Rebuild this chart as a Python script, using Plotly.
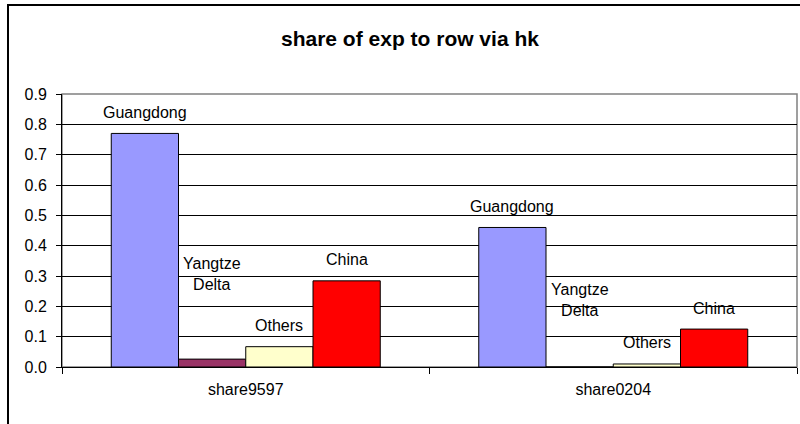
import plotly.graph_objects as go

# ---- data ----
categories = ["share9597", "share0204"]
series_names = ["Guangdong", "Yangtze Delta", "Others", "China"]
guangdong = [0.77, 0.46]
yangtze_delta = [0.026, 0.0]
others = [0.067, 0.010]
china = [0.284, 0.125]
y_ticks = [0.0, 0.1, 0.2, 0.3, 0.4, 0.5, 0.6, 0.7, 0.8, 0.9]
title_text = "share of exp to row via hk"

values = [guangdong, yangtze_delta, others, china]
label_texts = ["Guangdong", "Yangtze<br>Delta", "Others", "China"]
colors = ["#9999FF", "#993366", "#FFFFCC", "#FF0000"]

FONT = "Liberation Sans, Arial, sans-serif"
BARGAP = 0.268

L, R, T, B = 62, 3, 94, 57
W, H = 800, 424
pw, ph = W - L - R, H - T - B

fig = go.Figure()
for name, vals, col in zip(series_names, values, colors):
    fig.add_trace(go.Bar(
        x=categories, y=vals, name=name,
        marker=dict(color=col, line=dict(color="#000000", width=1)),
        showlegend=False, hoverinfo="skip",
    ))

# labels above bars (series names), positioned relative to each bar
n = len(series_names)
group_w = 1 - BARGAP
label_lift = {(1, 0): 85, (1, 1): 67}
annotations = []
for si, (txt, vals) in enumerate(zip(label_texts, values)):
    for ci, v in enumerate(vals):
        xpos = ci - group_w / 2 + (si + 0.5) * group_w / n
        annotations.append(dict(
            x=xpos, y=v, xref="x", yref="y", text=txt, showarrow=False,
            yanchor="middle", xanchor="center",
            yshift=label_lift.get((si, ci), 21),
            font=dict(family=FONT, size=16, color="#000000"),
        ))

annotations.append(dict(
    text="<b>" + title_text + "</b>",
    x=(410 - L) / pw, y=(H - B - 38) / ph, xref="paper", yref="paper",
    xanchor="center", yanchor="middle",
    showarrow=False, font=dict(family=FONT, size=21, color="#000000"),
))

shapes = [
    dict(type="rect", xref="paper", yref="paper", x0=0, x1=1, y0=0, y1=1,
         line=dict(color="#808080", width=1.5), layer="below"),
    dict(type="rect", xref="paper", yref="paper",
         x0=(8 - L) / pw, x1=1.2, y0=-0.6, y1=(H - B - 5) / ph,
         line=dict(color="#000000", width=2), layer="below"),
]

fig.update_layout(
    width=W, height=H,
    margin=dict(l=L, r=R, t=T, b=B, autoexpand=False),
    paper_bgcolor="white", plot_bgcolor="white",
    barmode="group", bargap=BARGAP, bargroupgap=0,
    font=dict(family=FONT, size=16, color="#000000"),
    annotations=annotations, shapes=shapes,
    xaxis=dict(
        type="category", tickson="boundaries", ticks="outside", ticklen=6,
        tickcolor="#000000", showline=True, linecolor="#000000", linewidth=1,
        showgrid=False, tickfont=dict(family=FONT, size=16),
        ticklabelstandoff=8, automargin=False,
    ),
    yaxis=dict(
        range=[0, 0.9], tickvals=y_ticks, tickformat=".1f",
        ticks="outside", ticklen=5, tickcolor="#000000",
        showline=True, linecolor="#000000", linewidth=1,
        showgrid=True, gridcolor="#000000", gridwidth=1, zeroline=False,
        tickfont=dict(family=FONT, size=16), ticklabelstandoff=6,
        automargin=False,
    ),
)

fig.write_html(
    "out.html",
    config={"displayModeBar": False},
    post_script="document.body.style.margin='0';document.body.style.overflow='hidden';",
)
